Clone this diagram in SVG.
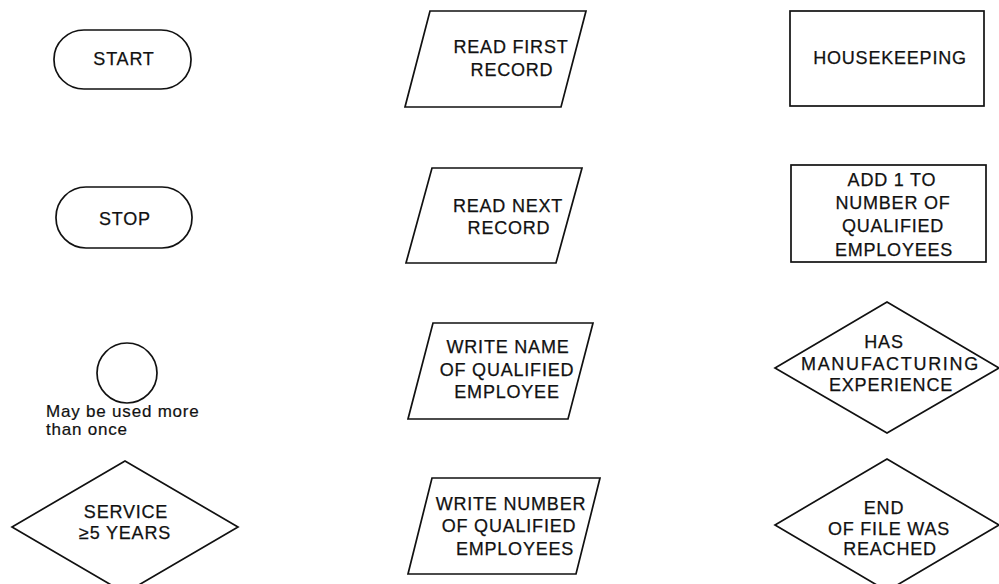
<svg xmlns="http://www.w3.org/2000/svg" width="999" height="584" viewBox="0 0 999 584">
  <style>
    .shape { fill: #ffffff; stroke: #111111; stroke-width: 1.7; stroke-linejoin: miter; }
    .label { font-family: "Liberation Sans", Arial, Helvetica, sans-serif; font-size: 18px; letter-spacing: 0.8px; fill: #111111; stroke: #111111; stroke-width: 0.25; text-anchor: middle; }
    .note { font-family: "Liberation Sans", Arial, Helvetica, sans-serif; font-size: 17px; letter-spacing: 0.8px; fill: #111111; stroke: #111111; stroke-width: 0.2; }
  </style>
  <rect width="999" height="584" fill="#ffffff"/>

  <!-- Terminal symbols -->
  <g id="start">
    <rect class="shape" x="54" y="30" width="137" height="59" rx="30" ry="29"/>
    <text class="label" x="124" y="65">START</text>
  </g>
  <g id="stop">
    <rect class="shape" x="56" y="187" width="136" height="61" rx="30" ry="30"/>
    <text class="label" x="125" y="225">STOP</text>
  </g>

  <!-- Connector symbol -->
  <g id="connector-circle">
    <circle class="shape" cx="127" cy="373" r="30"/>
    <text class="note" x="46" y="417">May be used more</text>
    <text class="note" x="46" y="435">than once</text>
  </g>

  <!-- Decision: service -->
  <g id="service">
    <polygon class="shape" points="125,461 238,527 125,593 12,527"/>
    <text class="label" x="126" y="518">SERVICE</text>
    <text class="label" x="125" y="539">≥5 YEARS</text>
  </g>

  <!-- Input/output symbols -->
  <g id="read-first">
    <polygon class="shape" points="430,11 586,11 561,107 405,107"/>
    <text class="label" x="511" y="53">READ FIRST</text>
    <text class="label" x="512" y="76">RECORD</text>
  </g>
  <g id="read-next">
    <polygon class="shape" points="432,168 582,168 556,263 406,263"/>
    <text class="label" x="508" y="212">READ NEXT</text>
    <text class="label" x="509" y="234">RECORD</text>
  </g>
  <g id="write-name">
    <polygon class="shape" points="433,323 593,323 568,419 408,419"/>
    <text class="label" x="508" y="353">WRITE NAME</text>
    <text class="label" x="507" y="376">OF QUALIFIED</text>
    <text class="label" x="507" y="398">EMPLOYEE</text>
  </g>
  <g id="write-number">
    <polygon class="shape" points="432,478 600,478 576,574 408,574"/>
    <text class="label" x="511" y="510">WRITE NUMBER</text>
    <text class="label" x="509" y="532">OF QUALIFIED</text>
    <text class="label" x="515" y="555">EMPLOYEES</text>
  </g>

  <!-- Process symbols -->
  <g id="housekeeping">
    <rect class="shape" x="790" y="11" width="194" height="95"/>
    <text class="label" x="890" y="64">HOUSEKEEPING</text>
  </g>
  <g id="add-one">
    <rect class="shape" x="791" y="165" width="195" height="97"/>
    <text class="label" x="892" y="186">ADD 1 TO</text>
    <text class="label" x="893" y="209">NUMBER OF</text>
    <text class="label" x="893" y="232">QUALIFIED</text>
    <text class="label" x="894" y="256">EMPLOYEES</text>
  </g>

  <!-- Decision symbols -->
  <g id="manufacturing">
    <polygon class="shape" points="887,302 999,368 887,433 775,368"/>
    <text class="label" x="884" y="348">HAS</text>
    <text class="label" x="890" y="370" textLength="178" lengthAdjust="spacing">MANUFACTURING</text>
    <text class="label" x="891" y="391">EXPERIENCE</text>
  </g>
  <g id="end-of-file">
    <polygon class="shape" points="887,459 999,525 887,591 775,525"/>
    <text class="label" x="884" y="514">END</text>
    <text class="label" x="889" y="535">OF FILE WAS</text>
    <text class="label" x="890" y="555">REACHED</text>
  </g>

  <!-- No flow lines in this symbol sheet -->
  <g id="connectors"/>
</svg>
